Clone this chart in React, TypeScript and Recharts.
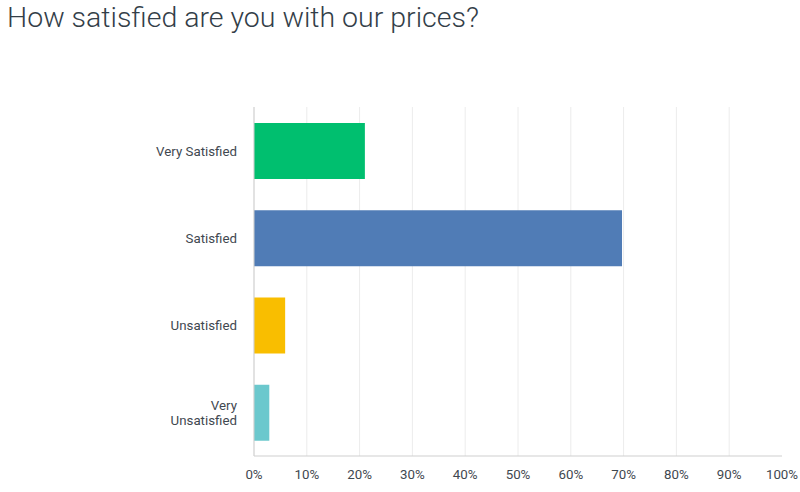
import React from "react";
import { BarChart, Bar, XAxis, YAxis, CartesianGrid, Cell } from "recharts";

const categories = ["Very Satisfied", "Satisfied", "Unsatisfied", "Very Unsatisfied"];
const percents = [21.0, 69.7, 5.9, 2.9];
const barColors = ["#00BF6F", "#507CB6", "#F9BE00", "#6BC8CD"];
const xTicks = [0, 10, 20, 30, 40, 50, 60, 70, 80, 90, 100];

const data = categories.map((name, i) => ({ name, value: percents[i] }));

const FONT = "Roboto, 'Open Sans', sans-serif";
const TEXT = "#3f4850";

// wrap the long label onto two lines like the original
function CategoryTick(props: any) {
  const { x, y, payload } = props;
  const label: string = payload.value;
  const lines =
    label.length > 14
      ? [label.slice(0, label.indexOf(" ")), label.slice(label.indexOf(" ") + 1)]
      : [label];
  const lh = 15;
  const startY = y - ((lines.length - 1) * lh) / 2;
  return (
    <text
      x={x}
      y={startY}
      textAnchor="end"
      dominantBaseline="central"
      fill={TEXT}
      fontSize={13.3}
      fontFamily={FONT}
    >
      {lines.map((l, i) => (
        <tspan key={i} x={x} dy={i === 0 ? 0 : lh}>
          {l}
        </tspan>
      ))}
    </text>
  );
}

export default function App() {
  return (
    <div
      style={{
        position: "absolute",
        left: 0,
        top: 0,
        width: 800,
        height: 492,
        background: "#fff",
        fontFamily: FONT,
      }}
    >
      <div
        style={{
          position: "absolute",
          left: 7,
          top: 0,
          fontSize: 28.5,
          fontWeight: 300,
          color: "#333e48",
          lineHeight: "36px",
          whiteSpace: "nowrap",
        }}
      >
        How satisfied are you with our prices?
      </div>
      <BarChart
        width={800}
        height={492}
        data={data}
        layout="vertical"
        margin={{ top: 107, right: 18, bottom: 0, left: 0 }}
      >
        <CartesianGrid
          horizontal={false}
          stroke="#ececec"
          verticalCoordinatesGenerator={({ offset }: any) =>
            xTicks
              .slice(0, -1)
              .map((t) => offset.left + (t / 100) * offset.width)
          }
        />
        <XAxis
          type="number"
          domain={[0, 100]}
          ticks={xTicks}
          tickFormatter={(v: number) => `${v}%`}
          tickLine={false}
          axisLine={{ stroke: "#cfcfcf" }}
          tickMargin={8}
          height={36}
          interval={0}
          tick={{ fill: TEXT, fontSize: 13.3, fontFamily: FONT }}
        />
        <YAxis
          type="category"
          dataKey="name"
          width={254}
          tickLine={false}
          axisLine={{ stroke: "#cfcfcf" }}
          tickMargin={11}
          tick={<CategoryTick />}
        />
        <Bar dataKey="value" barSize={56} isAnimationActive={false}>
          {data.map((_, i) => (
            <Cell key={`cell-${i}`} fill={barColors[i]} />
          ))}
        </Bar>
      </BarChart>
    </div>
  );
}
